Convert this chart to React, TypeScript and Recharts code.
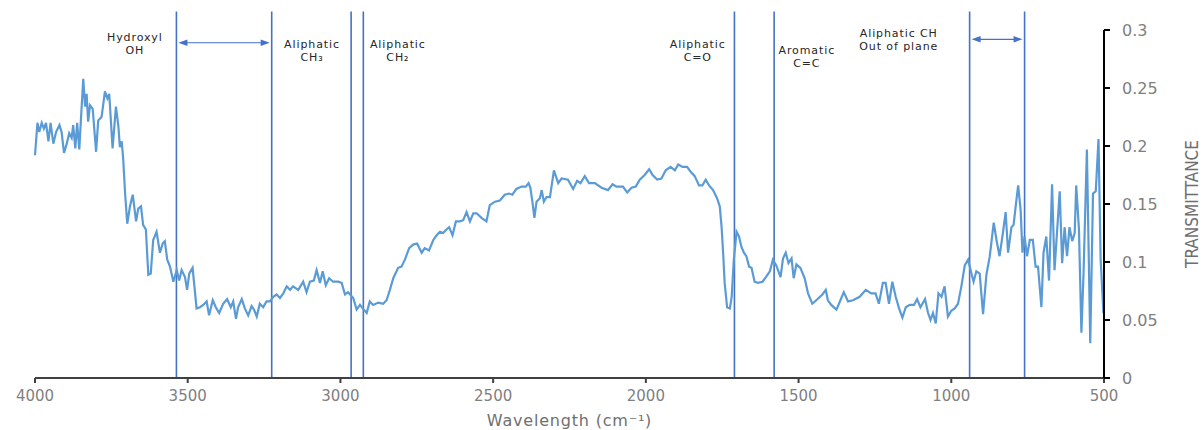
import React from 'react';
import { LineChart, Line, XAxis, YAxis, ReferenceLine, ReferenceDot } from 'recharts';

// FTIR spectrum (wavenumber in cm-1, transmittance)
const wavenumbers = [
  4000, 3992, 3986, 3978, 3971, 3964, 3956, 3949, 3940, 3931, 3920, 3913, 3905, 3896, 3888, 3880,
  3875, 3868, 3862, 3855, 3850, 3842, 3836, 3831, 3826, 3820, 3811, 3800, 3793, 3782, 3771, 3763,
  3757, 3746, 3735, 3727, 3722, 3716, 3711, 3705, 3698, 3689, 3680, 3669, 3662, 3653, 3646, 3637,
  3629, 3621, 3613, 3602, 3591, 3582, 3575, 3567, 3558, 3547, 3536, 3528, 3520, 3509, 3502, 3495,
  3484, 3471, 3460, 3449, 3438, 3430, 3418, 3408, 3397, 3384, 3371, 3359, 3351, 3342, 3335, 3323,
  3313, 3302, 3291, 3283, 3274, 3264, 3253, 3242, 3231, 3220, 3209, 3198, 3187, 3176, 3165, 3155,
  3138, 3122, 3111, 3100, 3087, 3078, 3067, 3058, 3048, 3037, 3024, 3007, 2996, 2985, 2975, 2958,
  2947, 2936, 2927, 2914, 2904, 2893, 2876, 2860, 2849, 2838, 2827, 2811, 2800, 2789, 2775, 2762,
  2749, 2734, 2724, 2710, 2696, 2685, 2674, 2664, 2653, 2644, 2633, 2622, 2609, 2598, 2587, 2576,
  2565, 2554, 2538, 2522, 2511, 2494, 2478, 2462, 2448, 2437, 2424, 2407, 2393, 2384, 2378, 2371,
  2365, 2358, 2347, 2341, 2334, 2325, 2314, 2301, 2287, 2276, 2255, 2238, 2225, 2214, 2200, 2186,
  2167, 2145, 2124, 2109, 2096, 2075, 2061, 2047, 2033, 2020, 2004, 1989, 1978, 1963, 1949, 1935,
  1919, 1905, 1894, 1880, 1865, 1854, 1840, 1826, 1815, 1804, 1793, 1780, 1767, 1758, 1752, 1747,
  1742, 1734, 1725, 1719, 1712, 1703, 1695, 1687, 1679, 1671, 1662, 1654, 1644, 1633, 1618, 1607,
  1594, 1584, 1573, 1559, 1551, 1542, 1533, 1523, 1516, 1507, 1494, 1480, 1469, 1455, 1442, 1422,
  1411, 1404, 1393, 1376, 1363, 1352, 1338, 1322, 1300, 1280, 1262, 1248, 1237, 1224, 1215, 1204,
  1193, 1182, 1171, 1160, 1149, 1136, 1122, 1112, 1101, 1086, 1076, 1068, 1060, 1051, 1042, 1032,
  1022, 1011, 1000, 989, 978, 967, 956, 945, 934, 927, 918, 907, 896, 885, 874, 861,
  852, 842, 831, 822, 814, 803, 796, 787, 781, 773, 767, 760, 752, 743, 733, 724,
  716, 705, 698, 689, 680, 670, 662, 654, 645, 637, 629, 621, 613, 604, 596, 591,
  582, 574, 567, 556, 545, 536, 527, 518, 511, 502,
];

const transmittance = [
  0.192, 0.220, 0.212, 0.220, 0.215, 0.220, 0.204, 0.220, 0.202, 0.212, 0.218, 0.212, 0.194, 0.202, 0.211, 0.207,
  0.218, 0.198, 0.220, 0.197, 0.221, 0.258, 0.234, 0.245, 0.221, 0.235, 0.232, 0.195, 0.222, 0.225, 0.247, 0.241,
  0.245, 0.198, 0.234, 0.217, 0.199, 0.204, 0.188, 0.159, 0.133, 0.148, 0.158, 0.135, 0.146, 0.148, 0.132, 0.128,
  0.089, 0.090, 0.119, 0.126, 0.108, 0.116, 0.118, 0.102, 0.096, 0.083, 0.093, 0.084, 0.093, 0.087, 0.076, 0.090,
  0.095, 0.060, 0.061, 0.063, 0.066, 0.054, 0.067, 0.061, 0.056, 0.064, 0.068, 0.061, 0.066, 0.051, 0.061, 0.068,
  0.060, 0.054, 0.062, 0.059, 0.053, 0.064, 0.061, 0.066, 0.066, 0.070, 0.072, 0.069, 0.073, 0.079, 0.076, 0.079,
  0.076, 0.083, 0.074, 0.083, 0.084, 0.093, 0.082, 0.092, 0.080, 0.086, 0.083, 0.083, 0.082, 0.072, 0.074, 0.069,
  0.059, 0.063, 0.060, 0.056, 0.066, 0.063, 0.065, 0.064, 0.067, 0.076, 0.086, 0.095, 0.096, 0.102, 0.112, 0.115,
  0.116, 0.108, 0.112, 0.110, 0.119, 0.123, 0.126, 0.125, 0.128, 0.130, 0.123, 0.135, 0.135, 0.136, 0.143, 0.135,
  0.142, 0.142, 0.138, 0.135, 0.149, 0.152, 0.153, 0.158, 0.159, 0.158, 0.163, 0.165, 0.165, 0.168, 0.164, 0.151,
  0.138, 0.152, 0.155, 0.162, 0.152, 0.156, 0.156, 0.179, 0.168, 0.172, 0.171, 0.163, 0.170, 0.168, 0.174, 0.168,
  0.168, 0.164, 0.162, 0.167, 0.165, 0.165, 0.160, 0.164, 0.165, 0.171, 0.175, 0.180, 0.175, 0.171, 0.172, 0.179,
  0.182, 0.179, 0.184, 0.182, 0.182, 0.178, 0.174, 0.166, 0.166, 0.171, 0.166, 0.162, 0.155, 0.148, 0.130, 0.108,
  0.082, 0.061, 0.060, 0.070, 0.102, 0.126, 0.122, 0.113, 0.108, 0.105, 0.096, 0.095, 0.083, 0.082, 0.083, 0.087,
  0.092, 0.102, 0.097, 0.087, 0.103, 0.108, 0.099, 0.103, 0.086, 0.098, 0.095, 0.086, 0.073, 0.064, 0.067, 0.072,
  0.076, 0.067, 0.063, 0.059, 0.067, 0.074, 0.066, 0.067, 0.070, 0.076, 0.073, 0.073, 0.064, 0.082, 0.082, 0.064,
  0.083, 0.070, 0.060, 0.052, 0.061, 0.063, 0.063, 0.068, 0.061, 0.068, 0.056, 0.050, 0.056, 0.047, 0.073, 0.070,
  0.079, 0.053, 0.058, 0.060, 0.064, 0.079, 0.097, 0.102, 0.090, 0.083, 0.092, 0.090, 0.055, 0.089, 0.105, 0.134,
  0.119, 0.105, 0.125, 0.143, 0.108, 0.130, 0.132, 0.153, 0.166, 0.145, 0.108, 0.122, 0.105, 0.119, 0.119, 0.096,
  0.096, 0.061, 0.108, 0.122, 0.084, 0.167, 0.093, 0.125, 0.161, 0.099, 0.130, 0.105, 0.130, 0.118, 0.125, 0.166,
  0.128, 0.039, 0.090, 0.197, 0.030, 0.159, 0.161, 0.206, 0.102, 0.056,
];

const xTicks = [4000, 3500, 3000, 2500, 2000, 1500, 1000, 500];
const yTicks = [0, 0.05, 0.1, 0.15, 0.2, 0.25, 0.3];

// band markers (cm-1)
const bandLines = [3537, 3225, 2965, 2925, 1710, 1580, 940, 760];
const bandTop = 0.316;

// double arrows spanning a region
const arrowFrom = [3537, 940];
const arrowTo = [3225, 760];
const arrowLevel = [0.289, 0.292];

// annotation texts
const noteLines = [
  ['Hydroxyl', 'OH'],
  ['Aliphatic', 'CH\u2083'],
  ['Aliphatic', 'CH\u2082'],
  ['Aliphatic', 'C=O'],
  ['Aromatic', 'C=C'],
  ['Aliphatic CH', 'Out of plane'],
];
const noteX = [3673, 3093, 2812, 1830, 1473, 1172];
const noteY = [0.294, 0.288, 0.288, 0.288, 0.283, 0.297];

const data = wavenumbers.map((w, i) => ({ w, t: transmittance[i] }));

const BLUE = '#4472C4';

const ArrowShape = (props: any) => {
  const { x1, x2, y1 } = props;
  const a = Math.min(x1, x2) + 2;
  const b = Math.max(x1, x2) - 2;
  return (
    <g>
      <line x1={a + 6} y1={y1} x2={b - 6} y2={y1} stroke={BLUE} strokeWidth={1.2} />
      <path d={`M${a},${y1} L${a + 9},${y1 - 3.2} L${a + 9},${y1 + 3.2} Z`} fill={BLUE} />
      <path d={`M${b},${y1} L${b - 9},${y1 - 3.2} L${b - 9},${y1 + 3.2} Z`} fill={BLUE} />
    </g>
  );
};

const noteShape = (lines: string[]) => (props: any) => (
  <text
    x={props.cx}
    y={props.cy}
    textAnchor="middle"
    fontFamily="'DejaVu Sans', sans-serif"
    fontSize={11}
    letterSpacing={0.9}
    fill="#262626"
  >
    {lines.map((l, i) => (
      <tspan key={i} x={props.cx} dy={i === 0 ? '0.35em' : 13}>
        {l}
      </tspan>
    ))}
  </text>
);

const YTitle = (props: any) => {
  const { viewBox } = props;
  const x = viewBox.x + 88;
  const y = viewBox.y + viewBox.height / 2;
  return (
    <text
      x={x}
      y={y}
      transform={`rotate(-90, ${x}, ${y})`}
      textAnchor="middle"
      dominantBaseline="central"
      fontFamily="'Liberation Sans Narrow', 'DejaVu Sans Condensed', sans-serif"
      fontSize={17}
      fill="#6f6f6f"
    >
      TRANSMITTANCE
    </text>
  );
};

const XTitle = (props: any) => {
  const { viewBox } = props;
  return (
    <text
      x={viewBox.x + viewBox.width / 2}
      y={viewBox.y + 48}
      textAnchor="middle"
      fontFamily="'DejaVu Sans', sans-serif"
      fontSize={16}
      letterSpacing={0.8}
      fill="#6f6f6f"
    >
      Wavelength (cm⁻¹)
    </text>
  );
};

export default function App() {
  return (
    <div style={{ width: 1203, height: 430, background: '#fff' }}>
      <style>{`body{margin:0}`}</style>
      <LineChart width={1203} height={430} data={data} margin={{ top: 30, right: 0, bottom: 0, left: 35 }}>
        <XAxis
          dataKey="w"
          type="number"
          domain={[500, 4000]}
          reversed
          ticks={xTicks}
          interval={0}
          height={52}
          tickSize={5}
          tickMargin={7}
          axisLine={{ stroke: '#404040', strokeWidth: 2 }}
          tickLine={{ stroke: '#404040', strokeWidth: 2 }}
          tick={{ fill: '#7f7f7f', fontSize: 15, fontFamily: "'DejaVu Sans', sans-serif" }}
          label={<XTitle />}
        />
        <YAxis
          orientation="right"
          type="number"
          domain={[0, 0.3]}
          ticks={yTicks}
          interval={0}
          width={99}
          tickSize={6}
          tickMargin={12}
          axisLine={{ stroke: '#000', strokeWidth: 2 }}
          tickLine={{ stroke: '#000', strokeWidth: 2 }}
          tick={{ fill: '#7f7f7f', fontSize: 16, fontFamily: "'DejaVu Sans', sans-serif", textAnchor: 'start' }}
          label={<YTitle />}
        />
        {bandLines.map((w) => (
          <ReferenceLine
            key={`b${w}`}
            segment={[{ x: w, y: 0 }, { x: w, y: bandTop }]}
            stroke={BLUE}
            strokeWidth={1.6}
            ifOverflow="visible"
          />
        ))}
        {arrowFrom.map((w, i) => (
          <ReferenceLine
            key={`a${w}`}
            segment={[{ x: w, y: arrowLevel[i] }, { x: arrowTo[i], y: arrowLevel[i] }]}
            ifOverflow="visible"
            shape={ArrowShape}
          />
        ))}
        {noteLines.map((lines, i) => (
          <ReferenceDot
            key={`n${i}`}
            x={noteX[i]}
            y={noteY[i]}
            r={0}
            ifOverflow="visible"
            shape={noteShape(lines)}
          />
        ))}
        <Line
          type="linear"
          dataKey="t"
          stroke="#5B9BD5"
          strokeWidth={2.2}
          dot={false}
          isAnimationActive={false}
        />
      </LineChart>
    </div>
  );
}
